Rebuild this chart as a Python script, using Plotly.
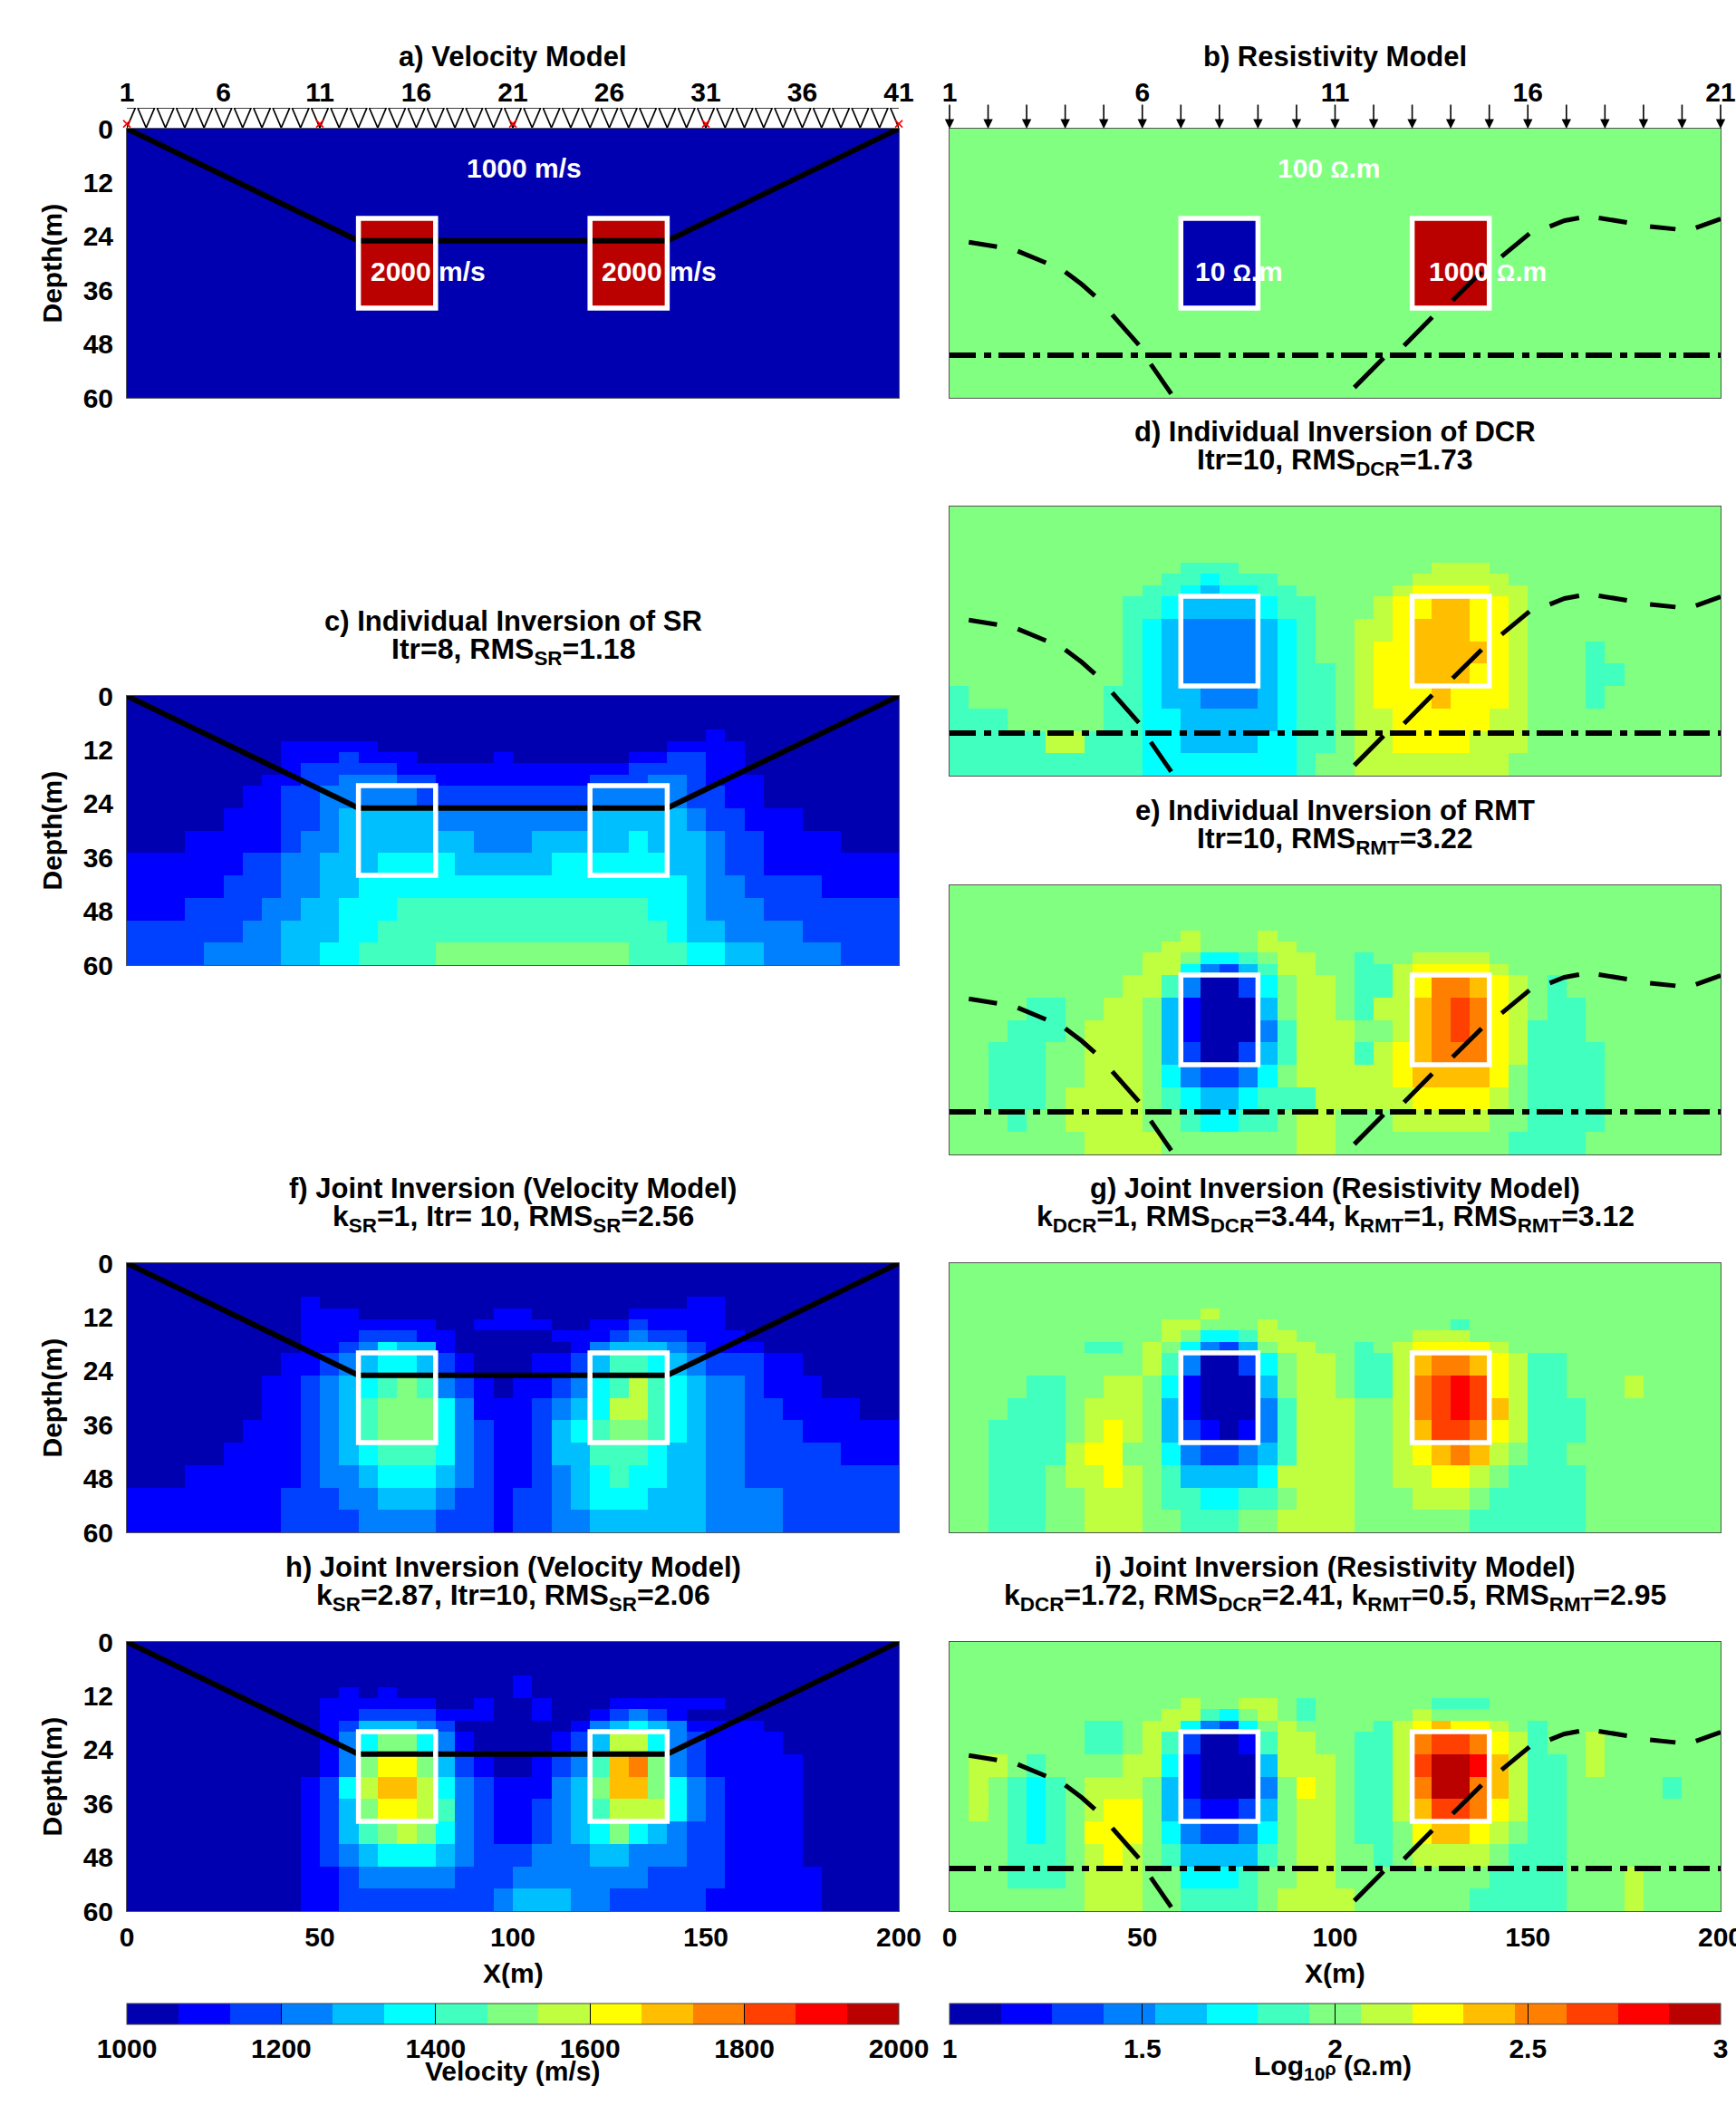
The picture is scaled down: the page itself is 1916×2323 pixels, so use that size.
"""
Seismic velocity and resistivity models with their inversions
"""

import plotly.graph_objects as go

# Colour class of every cell (hex digit, 0-e), rows from the surface down, 10 columns per group
VELOCITY_MODEL = [
    "0000000000 0000000000 0000000000 0000000000",
    "0000000000 0000000000 0000000000 0000000000",
    "0000000000 0000000000 0000000000 0000000000",
    "0000000000 0000000000 0000000000 0000000000",
    "0000000000 0000000000 0000000000 0000000000",
    "0000000000 0000000000 0000000000 0000000000",
    "0000000000 0000000000 0000000000 0000000000",
    "0000000000 0000000000 0000000000 0000000000",
    "0000000000 00eeee0000 0000eeee00 0000000000",
    "0000000000 00eeee0000 0000eeee00 0000000000",
    "0000000000 00eeee0000 0000eeee00 0000000000",
    "0000000000 00eeee0000 0000eeee00 0000000000",
    "0000000000 0000000000 0000000000 0000000000",
    "0000000000 0000000000 0000000000 0000000000",
    "0000000000 0000000000 0000000000 0000000000",
    "0000000000 0000000000 0000000000 0000000000",
]

RESISTIVITY_MODEL = [
    "7777777777 7777777777 7777777777 7777777777",
    "7777777777 7777777777 7777777777 7777777777",
    "7777777777 7777777777 7777777777 7777777777",
    "7777777777 7777777777 7777777777 7777777777",
    "7777777777 7777777777 7777777777 7777777777",
    "7777777777 7777777777 7777777777 7777777777",
    "7777777777 7777777777 7777777777 7777777777",
    "7777777777 7777777777 7777777777 7777777777",
    "7777777777 7700007777 7777eeee77 7777777777",
    "7777777777 7700007777 7777eeee77 7777777777",
    "7777777777 7700007777 7777eeee77 7777777777",
    "7777777777 7700007777 7777eeee77 7777777777",
    "7777777777 7777777777 7777777777 7777777777",
    "7777777777 7777777777 7777777777 7777777777",
    "7777777777 7777777777 7777777777 7777777777",
    "7777777777 7777777777 7777777777 7777777777",
]

SR_INVERSION = [
    "0000000000 0000000000 0000000000 0000000000",
    "0000000000 0000000000 0000000000 0000000000",
    "0000000000 0000000000 0000000000 0000000000",
    "0000000000 0000000000 0000000000 1000000000",
    "0000000011 1110000000 0000000011 1100000000",
    "0000000011 1211100001 0000001122 1100000000",
    "0000000012 2222111111 1111112222 1100000000",
    "0000000112 2333221111 1111222332 1110000000",
    "0000001122 3333322222 2222333332 2110000000",
    "0000011122 3444443333 3333444443 2211100000",
    "0001111123 3444444433 3444445444 3221111000",
    "1111112233 4445555444 4455555544 3221111111",
    "1111122233 4455555555 5555555554 3322221111",
    "1112222334 4555666666 6666666554 3332222222",
    "2222223344 4556666666 6666666654 4333322222",
    "2222333344 5566667777 7777776665 5443333222",
]

DCR_INVERSION = [
    "7777777777 7777777777 7777777777 7777777777",
    "7777777777 7777777777 7777777777 7777777777",
    "7777777777 7777777777 7777777777 7777777777",
    "7777777777 7777777777 7777777777 7777777777",
    "7777777777 7777777777 7777777777 7777777777",
    "7777777777 7766677777 7777788877 7777777777",
    "7777777777 7665666777 7777888887 7777777777",
    "7777777777 6654556677 7778999988 7777777777",
    "7777777776 6544445667 77899aa998 7777777777",
    "7777777776 5433334567 7889aaa998 7777777777",
    "7777777776 5433334567 7899aaaa98 7776777777",
    "7777777776 5433334566 7899aaa998 7776677777",
    "6777777766 5443334566 78999a9998 7776777777",
    "6667777766 5544444566 7889999988 7777777777",
    "6666688666 5544445566 7889999888 7777777777",
    "6666666666 5555555567 7888888887 7777777777",
]

RMT_INVERSION = [
    "7777777777 7777777777 7777777777 7777777777",
    "7777777777 7777777777 7777777777 7777777777",
    "7777777777 7777777777 7777777777 7777777777",
    "7777777777 7777777777 7777777777 7777777777",
    "7777777777 7787778777 7777777777 7777777777",
    "7777777777 7887778877 7777777777 7777777777",
    "7777777777 8875567887 7677888877 7777777777",
    "7777777777 8853246887 7668999987 7777777777",
    "7777777778 8630025788 76689bba98 7677777777",
    "7777667788 7410004788 7688abcb98 7667777777",
    "7776667888 7410003688 8778abcb98 6667777777",
    "7766677888 7420024688 8689abbb98 6666777777",
    "7766677888 7532235788 8889aaaa97 6666777777",
    "7766678888 7654456668 8888999987 6666777777",
    "7776778888 7765566788 7778888877 6666777777",
    "7777777888 8777777788 7777777776 6667777777",
]

JOINT_VELOCITY_F = [
    "0000000000 0000000000 0000000000 0000000000",
    "0000000000 0000000000 0000000000 0000000000",
    "0000000000 0000000000 0000000000 0000000000",
    "0000000001 0000000000 0000000001 1000000000",
    "0000000001 1100000001 1000001111 1000000000",
    "0000000001 1111110011 1100112111 1000000000",
    "0000000001 1122211000 0011123221 1100000000",
    "0000000001 1235441000 0001344432 1110000000",
    "0000000011 2345542100 0112466543 2221100000",
    "0000000112 3456763210 1123568654 3321110000",
    "0000000112 3467775311 1234588654 3322111100",
    "0000001112 3467775321 1245677654 3322211111",
    "0000011112 3456665321 1244666544 3322222111",
    "0001111112 3345554321 1234565544 3322222222",
    "1111111122 2334443221 2234555444 3333222222",
    "1111111122 2233332221 2233444444 3333222222",
]

JOINT_RESISTIVITY_G = [
    "7777777777 7777777777 7777777777 7777777777",
    "7777777777 7777777777 7777777777 7777777777",
    "7777777777 7777777777 7777777777 7777777777",
    "7777777777 7777777777 7777777777 7777777777",
    "7777777777 7778777777 7777777777 7777777777",
    "7777777777 7887778777 7777776777 7777777777",
    "7777777777 7875568877 7777888777 7777777777",
    "7777777667 8753247887 7678999987 7777777777",
    "7777777777 8630025788 7668abba98 6677777777",
    "7777667788 7510004788 7668bcdc98 6677787777",
    "7776667888 7410003688 8778bcdca8 6667777777",
    "7766667898 7421013688 8778accb98 6667777777",
    "7766668997 7532234688 87789aba87 6677777777",
    "7766678898 7644445888 8778899876 6667777777",
    "7766677888 7665566788 8777888766 6667777777",
    "7766677888 7766677888 8777777666 6667777777",
]

JOINT_VELOCITY_H = [
    "0000000000 0000000000 0000000000 0000000000",
    "0000000000 0000000000 0000000000 0000000000",
    "0000000000 0000000000 0000000000 0000000000",
    "0000000000 0000000000 1000000000 0000000000",
    "0000000000 0101000000 1000000000 0000000000",
    "0000000000 1111110010 0100011111 1000000000",
    "0000000000 1122221110 0100123210 0000000000",
    "0000000000 1244432000 0001345431 1110000000",
    "0000000000 1357753100 0012488532 1111000000",
    "0000000000 1379974210 01236ab732 1111100000",
    "0000000001 258aa85321 11347aa753 2111100000",
    "0000000001 2479986321 1234688853 2111100000",
    "0000000001 2467875321 1234575432 2111100000",
    "0000000001 2345554322 2333443332 2111100000",
    "0000000001 1233333222 3333333222 2111110000",
    "0000000001 1222222223 4443322222 1111110000",
]

JOINT_RESISTIVITY_I = [
    "7777777777 7777777777 7777777777 7777777777",
    "7777777777 7777777777 7777777777 7777777777",
    "7777777777 7777777777 7777777777 7777777777",
    "7777777777 7777777777 7777777777 7777777777",
    "7777777777 7777777777 7777777777 7777777777",
    "7777777777 7787788767 7777766677 7777777777",
    "7777777777 7886578767 7777877777 7777777777",
    "7777777667 8853257877 77689a9987 6777777777",
    "7777777667 8620016887 7668bccb98 6778777777",
    "7887677778 8510004888 7668ceeda8 6678777777",
    "7876567888 7410003798 7668beeba8 6677777677",
    "7876567899 7421124788 7668accb98 6677777777",
    "7776567999 7532235788 76679aa987 6677777777",
    "7776667898 7644446788 7767888876 6677777777",
    "7776667888 7755567788 7777777766 6677787777",
    "7777777888 7766667888 8777777666 6677787777",
]

X_EDGES = list(range(0, 205, 5))
DEPTH_EDGES = [0, 2.5, 5, 7.5, 10, 12.5, 15, 17.5, 20, 25, 30, 35, 40, 45, 50, 55, 60]

PALETTE = [
    "#0000B0", "#0000FF", "#0040FF", "#0080FF", "#00BFFF",
    "#00FFFF", "#40FFBF", "#80FF80", "#BFFF40", "#FFFF00",
    "#FFBF00", "#FF8000", "#FF4000", "#FF0000", "#BB0000",
]

# Target bodies and interfaces
BODY_X = [(60, 80), (120, 140)]
BODY_DEPTH = (20, 40)

INTERFACE_X = [0, 60, 140, 200]
INTERFACE_DEPTH = [0, 25, 25, 0]

# The dashes of the resistivity contact, with None at each gap
CURVE_LEFT_X = [5, 12.3, None, 17.7, 25, None, 30.0, 34.3, 37.7, None, 42.2, 49.1, None, 52.2, 57.5]
CURVE_LEFT_DEPTH = [25.3, 26.3, None, 27.3, 29.9, None, 31.9, 34.7, 37.3, None, 41.5, 48.2, None, 52.5, 59.1]
CURVE_RIGHT_X = [105, 112.6, None, 117.9, 125.2, None, 130.5, 138, None, 143.2, 150.4, None,
                 155.7, 159.5, 163.3, None, 168.4, 175.7, None, 181.7, 188.3, None, 193.6, 200]
CURVE_RIGHT_DEPTH = [57.7, 51.1, None, 48.4, 42, None, 38.3, 31.9, None, 28.5, 23.4, None,
                     21.8, 20.5, 19.9, None, 19.9, 20.9, None, 21.8, 22.4, None, 22.1, 20.1]
LAYER_DEPTH = 50.5

RECEIVER_X = list(range(0, 205, 5))
SHOT_X = [0, 50, 100, 150, 200]
ELECTRODE_X = list(range(0, 210, 10))

DEPTH_TICKS = [0, 12, 24, 36, 48, 60]
X_TICKS = [0, 50, 100, 150, 200]
RECEIVER_TICKS = [0, 25, 50, 75, 100, 125, 150, 175, 200]
RECEIVER_LABELS = ["1", "6", "11", "16", "21", "26", "31", "36", "41"]
ELECTRODE_LABELS = ["1", "6", "11", "16", "21"]
VELOCITY_TICKS = [1000, 1200, 1400, 1600, 1800, 2000]
RESISTIVITY_TICKS = [1, 1.5, 2, 2.5, 3]
RESISTIVITY_LABELS = ["1", "1.5", "2", "2.5", "3"]

W, H = 1916, 2323
FONT = "Liberation Sans"
LEFT_SPAN = (140, 992)
RIGHT_SPAN = (1048, 1899)
BASE_FONT = dict(family=FONT, size=30, weight="bold", color="black")
TITLE_FONT = dict(family=FONT, size=31, weight="bold", color="black")
SECOND_LINE_FONT = dict(family=FONT, size=32, weight="bold", color="black")
SMALL_OMEGA = '<span style="font-size:25px">Ω</span>'

# grid, column span, top pixel, title lines, kind
PANELS = [
    (VELOCITY_MODEL, LEFT_SPAN, 142, ["a) Velocity Model"], "velocity"),
    (RESISTIVITY_MODEL, RIGHT_SPAN, 142, ["b) Resistivity Model"], "resistivity"),
    (SR_INVERSION, LEFT_SPAN, 768,
     ["c) Individual Inversion of SR", "Itr=8, RMS<sub>SR</sub>=1.18"], "velocity"),
    (DCR_INVERSION, RIGHT_SPAN, 559,
     ["d) Individual Inversion of DCR", "Itr=10, RMS<sub>DCR</sub>=1.73"], "resistivity"),
    (RMT_INVERSION, RIGHT_SPAN, 977,
     ["e) Individual Inversion of RMT", "Itr=10, RMS<sub>RMT</sub>=3.22"], "resistivity"),
    (JOINT_VELOCITY_F, LEFT_SPAN, 1394,
     ["f) Joint Inversion (Velocity Model)", "k<sub>SR</sub>=1, Itr= 10, RMS<sub>SR</sub>=2.56"], "velocity"),
    (JOINT_RESISTIVITY_G, RIGHT_SPAN, 1394,
     ["g) Joint Inversion (Resistivity Model)",
      "k<sub>DCR</sub>=1, RMS<sub>DCR</sub>=3.44, k<sub>RMT</sub>=1, RMS<sub>RMT</sub>=3.12"], "resistivity"),
    (JOINT_VELOCITY_H, LEFT_SPAN, 1812,
     ["h) Joint Inversion (Velocity Model)", "k<sub>SR</sub>=2.87, Itr=10, RMS<sub>SR</sub>=2.06"], "velocity"),
    (JOINT_RESISTIVITY_I, RIGHT_SPAN, 1812,
     ["i) Joint Inversion (Resistivity Model)",
      "k<sub>DCR</sub>=1.72, RMS<sub>DCR</sub>=2.41, k<sub>RMT</sub>=0.5, RMS<sub>RMT</sub>=2.95"], "resistivity"),
]
PANEL_HEIGHT = 297


def decode(rows, low, high):
    """
    Turn the colour classes into values at the centre of their band
    """
    step = (high - low) / len(PALETTE)
    grid = []
    for row in rows:
        cells = row.replace(" ", "")
        assert len(cells) == 40
        grid.append([low + (int(c, 16) + 0.5) * step for c in cells])
    assert len(grid) == 16
    return grid


def stepped_scale():
    n = len(PALETTE)
    scale = []
    for i, colour in enumerate(PALETTE):
        scale += [[i / n, colour], [(i + 1) / n, colour]]
    return scale


def colourbar(span, ticks, labels):
    return dict(
        orientation="h", x=span[0] / W, xanchor="left", y=1 - 2211 / H, yanchor="top",
        lenmode="pixels", len=span[1] - span[0], thicknessmode="pixels", thickness=23,
        xpad=0, ypad=0, outlinecolor="#444444", outlinewidth=1,
        tickmode="array", tickvals=ticks, ticktext=labels,
        ticks="inside", ticklen=23, tickwidth=1, tickcolor="black",
        tickfont=BASE_FONT,
    )


fig = go.Figure()
layout = {}
line_style = dict(color="black", width=6)
dash_style = dict(color="black", width=5)
dash_dot_style = dict(color="black", width=6, dash="29px,9px,8px,8px")

for index, (rows, span, top, titles, kind) in enumerate(PANELS, start=1):
    suffix = "" if index == 1 else str(index)
    xa, ya = "x" + suffix, "y" + suffix
    is_velocity = kind == "velocity"
    low, high = (1000, 2000) if is_velocity else (1, 3)
    last_row = top == 1812

    trace = go.Heatmap(
        x=X_EDGES, y=DEPTH_EDGES, z=decode(rows, low, high), xaxis=xa, yaxis=ya,
        zmin=low, zmax=high, colorscale=stepped_scale(), showscale=last_row, hoverinfo="skip",
    )
    if last_row:
        if is_velocity:
            trace.colorbar = colourbar(span, VELOCITY_TICKS, [str(t) for t in VELOCITY_TICKS])
        else:
            trace.colorbar = colourbar(span, RESISTIVITY_TICKS, RESISTIVITY_LABELS)
    fig.add_trace(trace)

    # Interfaces
    if is_velocity:
        fig.add_trace(go.Scatter(x=INTERFACE_X, y=INTERFACE_DEPTH, mode="lines", xaxis=xa, yaxis=ya,
                                 line=line_style, showlegend=False))
    elif rows is not JOINT_RESISTIVITY_G:
        fig.add_trace(go.Scatter(x=CURVE_LEFT_X, y=CURVE_LEFT_DEPTH, mode="lines", xaxis=xa, yaxis=ya,
                                 line=dash_style, showlegend=False))
        fig.add_trace(go.Scatter(x=CURVE_RIGHT_X, y=CURVE_RIGHT_DEPTH, mode="lines", xaxis=xa, yaxis=ya,
                                 line=dash_style, showlegend=False))
        fig.add_trace(go.Scatter(x=[0, 200], y=[LAYER_DEPTH, LAYER_DEPTH], mode="lines", xaxis=xa, yaxis=ya,
                                 line=dash_dot_style, showlegend=False))

    # Target bodies
    for body in BODY_X:
        fig.add_shape(type="rect", xref=xa, yref=ya, x0=body[0], x1=body[1], y0=BODY_DEPTH[0], y1=BODY_DEPTH[1],
                      line=dict(color="white", width=5.5), layer="above")

    # Titles
    title_rows = [(83, TITLE_FONT), (50, SECOND_LINE_FONT)] if len(titles) == 2 else [(79, TITLE_FONT)]
    for line, (shift, title_font) in zip(titles, title_rows):
        fig.add_annotation(text=line, xref=xa + " domain", yref=ya + " domain", x=0.5, y=1, yshift=shift,
                           xanchor="center", yanchor="middle", showarrow=False, font=title_font)

    x_axis = dict(domain=[span[0] / W, span[1] / W], range=[0, 200], anchor=ya, showgrid=False, zeroline=False,
                  showline=True, mirror=True, linecolor="#555555", linewidth=1, ticks="", tickfont=BASE_FONT,
                  showticklabels=False, ticklabeloverflow="allow")
    y_axis = dict(domain=[1 - (top + PANEL_HEIGHT) / H, 1 - top / H], range=[60, 0], anchor=xa, showgrid=False,
                  zeroline=False, showline=True, mirror=True, linecolor="#555555", linewidth=1, ticks="",
                  tickfont=BASE_FONT, showticklabels=False)

    if is_velocity:
        y_axis.update(showticklabels=True, tickmode="array", tickvals=DEPTH_TICKS, ticklabelstandoff=8)
        fig.add_annotation(text="Depth(m)", xref="paper", yref=ya + " domain", x=57 / W, y=0.5, textangle=-90,
                           xanchor="center", yanchor="middle", showarrow=False, font=BASE_FONT)
    if last_row:
        x_axis.update(showticklabels=True, tickmode="array", tickvals=X_TICKS, ticklabelstandoff=2)
        fig.add_annotation(text="X(m)", xref=xa + " domain", yref="paper", x=0.5, y=1 - 2177 / H,
                           xanchor="center", yanchor="middle", showarrow=False, font=BASE_FONT)
    if top == 142:
        x_axis.update(showticklabels=True, side="top", tickmode="array", ticklabelstandoff=17)
        if is_velocity:
            x_axis.update(tickvals=RECEIVER_TICKS, ticktext=RECEIVER_LABELS)
        else:
            x_axis.update(tickvals=X_TICKS, ticktext=ELECTRODE_LABELS)

    layout["xaxis" + suffix] = x_axis
    layout["yaxis" + suffix] = y_axis

# Receivers and shots sit on their own axes in the strip above panel a
layout["xaxis10"] = dict(domain=[LEFT_SPAN[0] / W, LEFT_SPAN[1] / W], range=[0, 200], anchor="y10", visible=False)
layout["yaxis10"] = dict(domain=[1 - 141 / H, 1 - 119 / H], range=[0, 1], anchor="x10", visible=False)
triangle_x, triangle_y = [], []
half_width = 2.2
for position in RECEIVER_X:
    triangle_x += [position - half_width, position + half_width, position, position - half_width, None]
    triangle_y += [1, 1, 0, 1, None]
fig.add_trace(go.Scatter(x=triangle_x, y=triangle_y, mode="lines", cliponaxis=False,
                         line=dict(color="black", width=1.7), xaxis="x10", yaxis="y10", showlegend=False))
fig.add_trace(go.Scatter(x=SHOT_X, y=[0.2] * len(SHOT_X), mode="markers", cliponaxis=False,
                         marker=dict(symbol="x-thin", size=8, color="red", line=dict(width=1.6, color="red")),
                         xaxis="x10", yaxis="y10", showlegend=False))

# Electrodes above panel b
for position in ELECTRODE_X:
    fig.add_annotation(x=position, y=0, xref="x2", yref="y2", ax=0, ay=-28, text="", showarrow=True,
                       arrowhead=2, arrowsize=1.3, arrowwidth=1.6, arrowcolor="black")

# Model labels
white_font = dict(family=FONT, size=30, weight="bold", color="white")
for text, xa, ya, x, y in [
    ("1000 m/s", "x", "y", 103, 8.7),
    ("2000 m/s", "x", "y", 78, 31.8),
    ("2000 m/s", "x", "y", 138, 31.8),
    (f"100 {SMALL_OMEGA}.m", "x2", "y2", 98.4, 8.7),
    (f"10 {SMALL_OMEGA}.m", "x2", "y2", 75, 31.8),
    (f"1000 {SMALL_OMEGA}.m", "x2", "y2", 139.5, 31.8),
]:
    fig.add_annotation(text=text, xref=xa, yref=ya, x=x, y=y, showarrow=False, font=white_font)

# Colourbar titles
fig.add_annotation(text="Velocity (m/s)", xref="paper", yref="paper", x=565 / W, y=1 - 2285 / H,
                   xanchor="center", yanchor="middle", showarrow=False, font=BASE_FONT)
fig.add_annotation(text=f'Log<sub>10</sub><span style="font-size:20px">ρ</span> ({SMALL_OMEGA}.m)',
                   xref="paper", yref="paper", x=1471 / W, y=1 - 2281 / H,
                   xanchor="center", yanchor="middle", showarrow=False, font=BASE_FONT)

fig.update_layout(
    width=W, height=H, margin=dict(l=0, r=0, t=0, b=0, autoexpand=False), paper_bgcolor="white", plot_bgcolor="white",
    showlegend=False, font=dict(family=FONT), **layout,
)
fig.write_html("out.html", config={"displayModeBar": False}, post_script="document.body.style.margin='0'")
